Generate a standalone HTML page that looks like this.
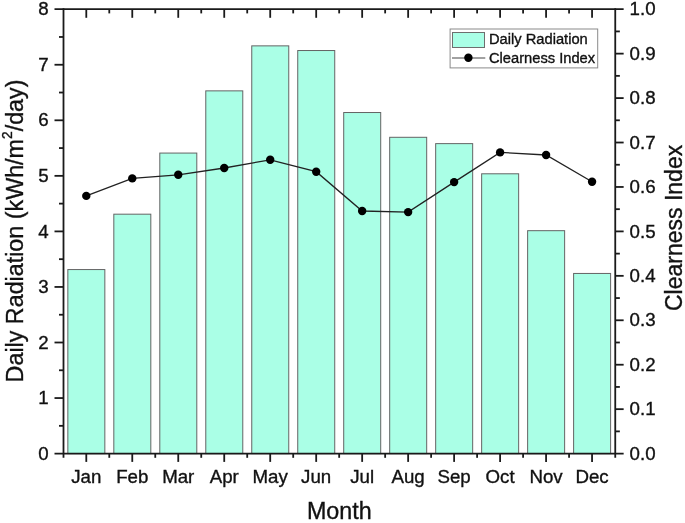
<!DOCTYPE html>
<html><head><meta charset="utf-8"><title>Daily Radiation and Clearness Index</title>
<style>
html,body{margin:0;padding:0;background:#fff;}
svg{display:block;}
text{font-family:"Liberation Sans",sans-serif;fill:#111;stroke:#111;stroke-width:0.35px;}
.tk{font-size:18.7px;}
.tt{font-size:23.3px;}
.lg{font-size:14.7px;}
</style></head><body>
<svg width="685" height="523" viewBox="0 0 685 523">
<rect width="685" height="523" fill="#fff"/>

<g fill="#aaffe6" stroke="#646464" stroke-width="1">
<rect x="67.84" y="269.56" width="37.00" height="184.04"/>
<rect x="113.82" y="214.18" width="37.00" height="239.42"/>
<rect x="159.80" y="153.07" width="37.00" height="300.53"/>
<rect x="205.78" y="90.86" width="37.00" height="362.74"/>
<rect x="251.76" y="45.86" width="37.00" height="407.74"/>
<rect x="297.74" y="50.53" width="37.00" height="403.07"/>
<rect x="343.71" y="112.52" width="37.00" height="341.08"/>
<rect x="389.69" y="137.30" width="37.00" height="316.30"/>
<rect x="435.67" y="143.63" width="37.00" height="309.97"/>
<rect x="481.65" y="173.79" width="37.00" height="279.81"/>
<rect x="527.63" y="230.68" width="37.00" height="222.92"/>
<rect x="573.61" y="273.45" width="37.00" height="180.15"/>
</g>
<polyline points="86.29,195.90 132.27,178.40 178.25,174.80 224.23,168.00 270.21,159.80 316.19,171.70 362.16,211.00 408.14,212.10 454.12,182.10 500.10,152.40 546.08,155.00 592.06,181.80" fill="none" stroke="#222" stroke-width="1.3"/>
<g fill="#000">
<circle cx="86.29" cy="195.90" r="4.2"/>
<circle cx="132.27" cy="178.40" r="4.2"/>
<circle cx="178.25" cy="174.80" r="4.2"/>
<circle cx="224.23" cy="168.00" r="4.2"/>
<circle cx="270.21" cy="159.80" r="4.2"/>
<circle cx="316.19" cy="171.70" r="4.2"/>
<circle cx="362.16" cy="211.00" r="4.2"/>
<circle cx="408.14" cy="212.10" r="4.2"/>
<circle cx="454.12" cy="182.10" r="4.2"/>
<circle cx="500.10" cy="152.40" r="4.2"/>
<circle cx="546.08" cy="155.00" r="4.2"/>
<circle cx="592.06" cy="181.80" r="4.2"/>
</g>
<g stroke="#1a1a1a" stroke-width="1.8" fill="none">
<line x1="63.5" y1="8.299999999999999" x2="63.5" y2="457.8"/>
<line x1="615.25" y1="8.299999999999999" x2="615.25" y2="457.8"/>
<line x1="54.5" y1="9.2" x2="623.65" y2="9.2"/>
<line x1="54.5" y1="453.6" x2="623.65" y2="453.6"/>
<line x1="59.0" y1="425.83" x2="63.5" y2="425.83"/>
<line x1="54.5" y1="398.05" x2="63.5" y2="398.05"/>
<line x1="59.0" y1="370.28" x2="63.5" y2="370.28"/>
<line x1="54.5" y1="342.50" x2="63.5" y2="342.50"/>
<line x1="59.0" y1="314.73" x2="63.5" y2="314.73"/>
<line x1="54.5" y1="286.95" x2="63.5" y2="286.95"/>
<line x1="59.0" y1="259.18" x2="63.5" y2="259.18"/>
<line x1="54.5" y1="231.40" x2="63.5" y2="231.40"/>
<line x1="59.0" y1="203.62" x2="63.5" y2="203.62"/>
<line x1="54.5" y1="175.85" x2="63.5" y2="175.85"/>
<line x1="59.0" y1="148.07" x2="63.5" y2="148.07"/>
<line x1="54.5" y1="120.30" x2="63.5" y2="120.30"/>
<line x1="59.0" y1="92.52" x2="63.5" y2="92.52"/>
<line x1="54.5" y1="64.75" x2="63.5" y2="64.75"/>
<line x1="59.0" y1="36.97" x2="63.5" y2="36.97"/>
<line x1="615.25" y1="431.38" x2="619.85" y2="431.38"/>
<line x1="615.25" y1="409.16" x2="623.65" y2="409.16"/>
<line x1="615.25" y1="386.94" x2="619.85" y2="386.94"/>
<line x1="615.25" y1="364.72" x2="623.65" y2="364.72"/>
<line x1="615.25" y1="342.50" x2="619.85" y2="342.50"/>
<line x1="615.25" y1="320.28" x2="623.65" y2="320.28"/>
<line x1="615.25" y1="298.06" x2="619.85" y2="298.06"/>
<line x1="615.25" y1="275.84" x2="623.65" y2="275.84"/>
<line x1="615.25" y1="253.62" x2="619.85" y2="253.62"/>
<line x1="615.25" y1="231.40" x2="623.65" y2="231.40"/>
<line x1="615.25" y1="209.18" x2="619.85" y2="209.18"/>
<line x1="615.25" y1="186.96" x2="623.65" y2="186.96"/>
<line x1="615.25" y1="164.74" x2="619.85" y2="164.74"/>
<line x1="615.25" y1="142.52" x2="623.65" y2="142.52"/>
<line x1="615.25" y1="120.30" x2="619.85" y2="120.30"/>
<line x1="615.25" y1="98.08" x2="623.65" y2="98.08"/>
<line x1="615.25" y1="75.86" x2="619.85" y2="75.86"/>
<line x1="615.25" y1="53.64" x2="623.65" y2="53.64"/>
<line x1="615.25" y1="31.42" x2="619.85" y2="31.42"/>
<line x1="86.29" y1="453.6" x2="86.29" y2="461.90000000000003"/>
<line x1="86.29" y1="9.2" x2="86.29" y2="17.799999999999997"/>
<line x1="109.28" y1="453.6" x2="109.28" y2="457.8"/>
<line x1="109.28" y1="9.2" x2="109.28" y2="13.399999999999999"/>
<line x1="132.27" y1="453.6" x2="132.27" y2="461.90000000000003"/>
<line x1="132.27" y1="9.2" x2="132.27" y2="17.799999999999997"/>
<line x1="155.26" y1="453.6" x2="155.26" y2="457.8"/>
<line x1="155.26" y1="9.2" x2="155.26" y2="13.399999999999999"/>
<line x1="178.25" y1="453.6" x2="178.25" y2="461.90000000000003"/>
<line x1="178.25" y1="9.2" x2="178.25" y2="17.799999999999997"/>
<line x1="201.24" y1="453.6" x2="201.24" y2="457.8"/>
<line x1="201.24" y1="9.2" x2="201.24" y2="13.399999999999999"/>
<line x1="224.23" y1="453.6" x2="224.23" y2="461.90000000000003"/>
<line x1="224.23" y1="9.2" x2="224.23" y2="17.799999999999997"/>
<line x1="247.22" y1="453.6" x2="247.22" y2="457.8"/>
<line x1="247.22" y1="9.2" x2="247.22" y2="13.399999999999999"/>
<line x1="270.21" y1="453.6" x2="270.21" y2="461.90000000000003"/>
<line x1="270.21" y1="9.2" x2="270.21" y2="17.799999999999997"/>
<line x1="293.20" y1="453.6" x2="293.20" y2="457.8"/>
<line x1="293.20" y1="9.2" x2="293.20" y2="13.399999999999999"/>
<line x1="316.19" y1="453.6" x2="316.19" y2="461.90000000000003"/>
<line x1="316.19" y1="9.2" x2="316.19" y2="17.799999999999997"/>
<line x1="339.17" y1="453.6" x2="339.17" y2="457.8"/>
<line x1="339.17" y1="9.2" x2="339.17" y2="13.399999999999999"/>
<line x1="362.16" y1="453.6" x2="362.16" y2="461.90000000000003"/>
<line x1="362.16" y1="9.2" x2="362.16" y2="17.799999999999997"/>
<line x1="385.15" y1="453.6" x2="385.15" y2="457.8"/>
<line x1="385.15" y1="9.2" x2="385.15" y2="13.399999999999999"/>
<line x1="408.14" y1="453.6" x2="408.14" y2="461.90000000000003"/>
<line x1="408.14" y1="9.2" x2="408.14" y2="17.799999999999997"/>
<line x1="431.13" y1="453.6" x2="431.13" y2="457.8"/>
<line x1="431.13" y1="9.2" x2="431.13" y2="13.399999999999999"/>
<line x1="454.12" y1="453.6" x2="454.12" y2="461.90000000000003"/>
<line x1="454.12" y1="9.2" x2="454.12" y2="17.799999999999997"/>
<line x1="477.11" y1="453.6" x2="477.11" y2="457.8"/>
<line x1="477.11" y1="9.2" x2="477.11" y2="13.399999999999999"/>
<line x1="500.10" y1="453.6" x2="500.10" y2="461.90000000000003"/>
<line x1="500.10" y1="9.2" x2="500.10" y2="17.799999999999997"/>
<line x1="523.09" y1="453.6" x2="523.09" y2="457.8"/>
<line x1="523.09" y1="9.2" x2="523.09" y2="13.399999999999999"/>
<line x1="546.08" y1="453.6" x2="546.08" y2="461.90000000000003"/>
<line x1="546.08" y1="9.2" x2="546.08" y2="17.799999999999997"/>
<line x1="569.07" y1="453.6" x2="569.07" y2="457.8"/>
<line x1="569.07" y1="9.2" x2="569.07" y2="13.399999999999999"/>
<line x1="592.06" y1="453.6" x2="592.06" y2="461.90000000000003"/>
<line x1="592.06" y1="9.2" x2="592.06" y2="17.799999999999997"/>
</g>
<g class="tk">
<text x="48.6" y="459.70" text-anchor="end">0</text>
<text x="48.6" y="404.15" text-anchor="end">1</text>
<text x="48.6" y="348.60" text-anchor="end">2</text>
<text x="48.6" y="293.05" text-anchor="end">3</text>
<text x="48.6" y="237.50" text-anchor="end">4</text>
<text x="48.6" y="181.95" text-anchor="end">5</text>
<text x="48.6" y="126.40" text-anchor="end">6</text>
<text x="48.6" y="70.85" text-anchor="end">7</text>
<text x="48.6" y="15.30" text-anchor="end">8</text>
<text x="629.6" y="459.70">0.0</text>
<text x="629.6" y="415.26">0.1</text>
<text x="629.6" y="370.82">0.2</text>
<text x="629.6" y="326.38">0.3</text>
<text x="629.6" y="281.94">0.4</text>
<text x="629.6" y="237.50">0.5</text>
<text x="629.6" y="193.06">0.6</text>
<text x="629.6" y="148.62">0.7</text>
<text x="629.6" y="104.18">0.8</text>
<text x="629.6" y="59.74">0.9</text>
<text x="629.6" y="15.30">1.0</text>
<text x="86.29" y="482.8" text-anchor="middle">Jan</text>
<text x="132.27" y="482.8" text-anchor="middle">Feb</text>
<text x="178.25" y="482.8" text-anchor="middle">Mar</text>
<text x="224.23" y="482.8" text-anchor="middle">Apr</text>
<text x="270.21" y="482.8" text-anchor="middle">May</text>
<text x="316.19" y="482.8" text-anchor="middle">Jun</text>
<text x="362.16" y="482.8" text-anchor="middle">Jul</text>
<text x="408.14" y="482.8" text-anchor="middle">Aug</text>
<text x="454.12" y="482.8" text-anchor="middle">Sep</text>
<text x="500.10" y="482.8" text-anchor="middle">Oct</text>
<text x="546.08" y="482.8" text-anchor="middle">Nov</text>
<text x="592.06" y="482.8" text-anchor="middle">Dec</text>
</g>
<text class="tt" x="339.3" y="519.4" text-anchor="middle">Month</text>
<text class="tt" transform="translate(23 382.4) rotate(-90)">Daily Radiation (kWh/m<tspan font-size="13.8" dy="-10.6">2</tspan><tspan dy="10.6">/day)</tspan></text>
<text class="tt" transform="translate(682.2 227.9) rotate(-90)" text-anchor="middle" style="font-size:23px">Clearness Index</text>
<rect x="450.1" y="29" width="147.6" height="38.9" fill="#fff" stroke="#8a8a8a" stroke-width="1"/>
<rect x="452.5" y="32.5" width="32" height="15" fill="#aaffe6" stroke="#6e6e6e" stroke-width="1"/>
<line x1="452" y1="58" x2="485.3" y2="58" stroke="#444" stroke-width="1.2"/>
<circle cx="468.4" cy="57.7" r="4.2" fill="#000"/>
<text class="lg" x="489" y="44.4">Daily Radiation</text>
<text class="lg" x="489" y="63.2">Clearness Index</text>
</svg></body></html>
